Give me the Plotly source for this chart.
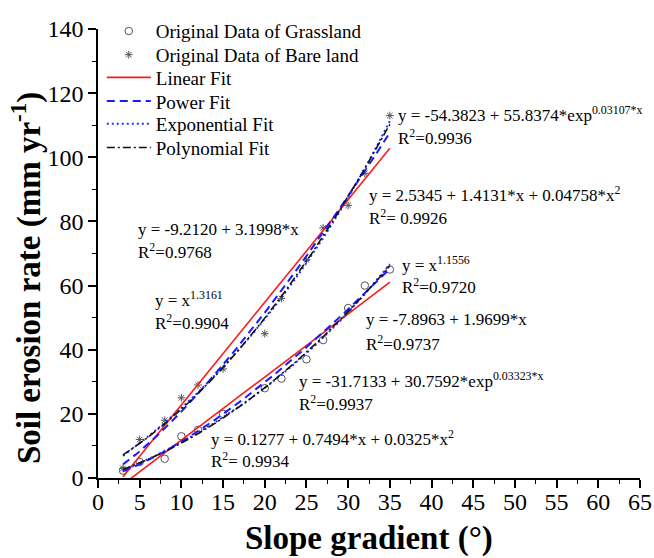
import numpy as np
import plotly.graph_objects as go

# ---- data ----
slope_grass = [3, 5, 8, 10, 12, 15, 20, 22, 25, 27, 30, 32, 35]
erosion_grass = [2.3, 5, 6, 13, 15, 20, 28, 31, 37, 43, 53, 60, 65]
slope_bare = [3, 5, 8, 10, 12, 15, 20, 22, 25, 27, 30, 32, 35]
erosion_bare = [3, 12, 18, 25, 29, 34, 45, 56, 68, 78, 85, 95, 113]

# fit coefficients (from the printed equations / drawn curves)
lin_grass = [-7.8963, 1.9699]
lin_bare = [-9.2120, 3.1998]
pow_grass = [0.45, 1.40]
pow_bare = [1.0, 1.3161]
exp_grass = [-31.7133, 30.7592, 0.03323]
exp_bare = [-54.3823, 55.8374, 0.03107]
poly_grass = [0.1277, 0.7494, 0.0325]
poly_bare = [2.5345, 1.4131, 0.04758]
fit_range = [3, 35]

x_ticks = list(range(0, 66, 5))
y_ticks = list(range(0, 141, 20))

FONT = "Liberation Serif, Times New Roman, serif"

xf = np.linspace(fit_range[0], fit_range[1], 200)


def lin(c):
    return c[0] + c[1] * xf


def pw(c):
    return c[0] * xf ** c[1]


def ex(c):
    return c[0] + c[1] * np.exp(c[2] * xf)


def poly(c):
    return c[0] + c[1] * xf + c[2] * xf ** 2


# one single-entry legend per row so the row spacing matches the reference
legend_ids = ["legend", "legend2", "legend3", "legend4", "legend5", "legend6"]
legend_rows_y = [0.9952, 0.9425, 0.8919, 0.8391, 0.7886, 0.7358]

fig = go.Figure()

fig.add_trace(go.Scatter(x=slope_grass, y=erosion_grass, mode="markers",
                         name="Original Data of Grassland", legend=legend_ids[0],
                         marker=dict(symbol="circle-open", size=7.5, color="#555555",
                                     line=dict(width=1, color="#555555"))))
fig.add_trace(go.Scatter(x=slope_bare, y=erosion_bare, mode="markers",
                         name="Original Data of Bare land", legend=legend_ids[1],
                         marker=dict(symbol="asterisk-open", size=6.5, color="#555555",
                                     line=dict(width=1, color="#555555"))))

styles = [
    ("Linear Fit", lin, lin_grass, lin_bare, dict(color="#ff1a1a", width=1.6, dash="solid")),
    ("Power Fit", pw, pow_grass, pow_bare, dict(color="#1a1aff", width=2, dash="8px,5px")),
    ("Exponential Fit", ex, exp_grass, exp_bare, dict(color="#2233ff", width=2, dash="2px,3px")),
    ("Polynomial Fit", poly, poly_grass, poly_bare, dict(color="#111111", width=1.6, dash="8px,3px,2px,3px")),
]
for i, (name, fn, cg, cb, ln) in enumerate(styles):
    lg = legend_ids[i + 2]
    fig.add_trace(go.Scatter(x=xf, y=fn(cg), mode="lines", name=name, legendgroup=name,
                             legend=lg, line=ln))
    fig.add_trace(go.Scatter(x=xf, y=fn(cb), mode="lines", name=name, legendgroup=name,
                             legend=lg, showlegend=False, line=ln))

ann = [
    (35.7, 113.4, "y = -54.3823 + 55.8374*exp<sup>0.03107*x</sup>"),
    (35.7, 106.2, "R<sup>2</sup>=0.9936"),
    (32.2, 88.7, "y = 2.5345 + 1.4131*x + 0.04758*x<sup>2</sup>"),
    (32.2, 81.3, "R<sup>2</sup>= 0.9926"),
    (4.6, 77.6, "y = -9.2120 + 3.1998*x"),
    (4.6, 70.9, "R<sup>2</sup>=0.9768"),
    (6.6, 55.8, "y = x<sup>1.3161</sup>"),
    (6.6, 48.7, "R<sup>2</sup>=0.9904"),
    (36.2, 66.6, "y = x<sup>1.1556</sup>"),
    (36.2, 59.8, "R<sup>2</sup>=0.9720"),
    (31.9, 49.3, "y = -7.8963 + 1.9699*x"),
    (31.9, 42.0, "R<sup>2</sup>=0.9737"),
    (23.9, 30.6, "y = -31.7133 + 30.7592*exp<sup>0.03323*x</sup>"),
    (23.9, 23.5, "R<sup>2</sup>=0.9937"),
    (13.3, 12.4, "y = 0.1277 + 0.7494*x + 0.0325*x<sup>2</sup>"),
    (13.3, 5.6, "R<sup>2</sup>= 0.9934"),
]
annotations = [dict(x=x, y=y, xref="x", yref="y", text=t, showarrow=False,
                    xanchor="left", yanchor="middle",
                    font=dict(family=FONT, size=17, color="black"))
               for x, y, t in ann]
annotations.append(dict(x=0.5, y=-0.1356, xref="paper", yref="paper",
                        text="<b>Slope gradient (°)</b>", showarrow=False,
                        xanchor="center", yanchor="middle",
                        font=dict(family=FONT, size=33, color="black")))
annotations.append(dict(x=-0.1315, y=0.4446, xref="paper", yref="paper",
                        text="<b>Soil erosion rate (mm yr<sup>-1</sup>)</b>", showarrow=False,
                        textangle=-90, xanchor="center", yanchor="middle",
                        font=dict(family=FONT, size=33, color="black")))

axis_common = dict(showline=True, linecolor="black", linewidth=1.6, mirror=False,
                   ticks="outside", ticklen=8, tickwidth=1.5, tickcolor="black",
                   showgrid=False, zeroline=False, automargin=False,
                   tickfont=dict(family=FONT, size=24, color="black"))

legend_style = dict(x=0.007, xanchor="left", yanchor="middle",
                    bgcolor="rgba(0,0,0,0)", borderwidth=0, itemwidth=44,
                    font=dict(family=FONT, size=19, color="black"))
legends = {lid: dict(y=ly, **legend_style) for lid, ly in zip(legend_ids, legend_rows_y)}

fig.update_layout(
    width=654, height=558,
    margin=dict(l=98, r=14, t=23, b=80),
    paper_bgcolor="white", plot_bgcolor="white",
    showlegend=True,
    xaxis=dict(range=[0, 65], tickvals=x_ticks, ticklabelstandoff=-7,
               minor=dict(ticks="outside", ticklen=4, tickwidth=1.2, dtick=2.5, tick0=0,
                          tickcolor="black"),
               **axis_common),
    yaxis=dict(range=[0, 140], tickvals=y_ticks,
               minor=dict(ticks="outside", ticklen=4, tickwidth=1.2, dtick=10, tick0=0,
                          tickcolor="black"),
               **axis_common),
    annotations=annotations,
    **legends,
)

fig.write_html("out.html", config={"displayModeBar": False},
               post_script="document.body.style.margin='0px';")
